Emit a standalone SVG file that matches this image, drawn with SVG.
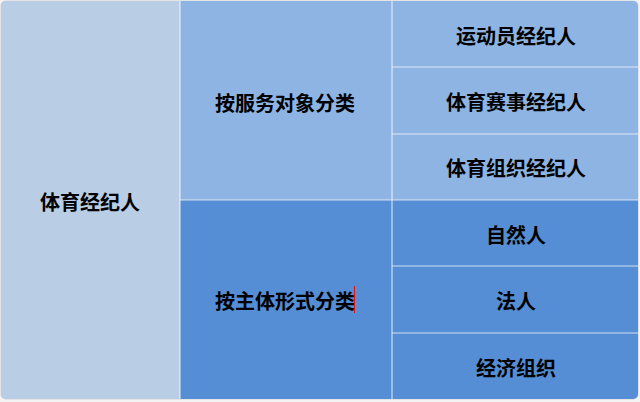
<svg xmlns="http://www.w3.org/2000/svg" width="640" height="402" viewBox="0 0 640 402">
<defs>
<clipPath id="frame"><rect x="1" y="1" width="637" height="398" rx="5" ry="5"/></clipPath>
<style>
.t{font-family:"Noto Sans CJK SC","Microsoft YaHei",sans-serif;font-weight:bold;font-size:20px;fill:#000;text-anchor:middle;dominant-baseline:central}
.sep{stroke:#ffffff;stroke-opacity:0.7;stroke-width:1.2;fill:none}
.l{fill:#b9cde5}
.m{fill:#8eb4e3}
.d{fill:#558ed5}
</style>
</defs>
<rect x="0" y="0" width="640" height="402" fill="#f3f3f3"/>
<rect x="0.5" y="0.5" width="638" height="399" rx="5" ry="5" fill="#d6d6d6"/>
<g clip-path="url(#frame)">
<g id="root"><rect class="l" x="0" y="0" width="180" height="402"/><text class="t" x="90" y="201">体育经纪人</text></g>
<g id="service"><rect class="m" x="180" y="0" width="212" height="200"/><text class="t" x="285" y="102">按服务对象分类</text></g>
<g id="subject"><rect class="d" x="180" y="200" width="212" height="202"/><text class="t" x="285" y="300">按主体形式分类</text></g>
<g id="athlete"><rect class="m" x="392" y="0" width="248" height="67"/><text class="t" x="516" y="35">运动员经纪人</text></g>
<g id="event"><rect class="m" x="392" y="67" width="248" height="67"/><text class="t" x="516" y="101">体育赛事经纪人</text></g>
<g id="org"><rect class="m" x="392" y="134" width="248" height="66"/><text class="t" x="516" y="167">体育组织经纪人</text></g>
<g id="natural"><rect class="d" x="392" y="200" width="248" height="66"/><text class="t" x="516" y="234">自然人</text></g>
<g id="legal"><rect class="d" x="392" y="266" width="248" height="67"/><text class="t" x="516" y="300">法人</text></g>
<g id="econ"><rect class="d" x="392" y="333" width="248" height="69"/><text class="t" x="516" y="367">经济组织</text></g>
<g id="connectors">
<line class="sep" x1="180" y1="0" x2="180" y2="402"/>
<line class="sep" x1="392" y1="0" x2="392" y2="402"/>
<line class="sep" x1="180" y1="200" x2="640" y2="200"/>
<line class="sep" x1="392" y1="67" x2="640" y2="67"/>
<line class="sep" x1="392" y1="134" x2="640" y2="134"/>
<line class="sep" x1="392" y1="266" x2="640" y2="266"/>
<line class="sep" x1="392" y1="333" x2="640" y2="333"/>
</g>
<line x1="354.5" y1="286" x2="354.5" y2="313" stroke="#e01010" stroke-width="1"/>
</g>
</svg>
